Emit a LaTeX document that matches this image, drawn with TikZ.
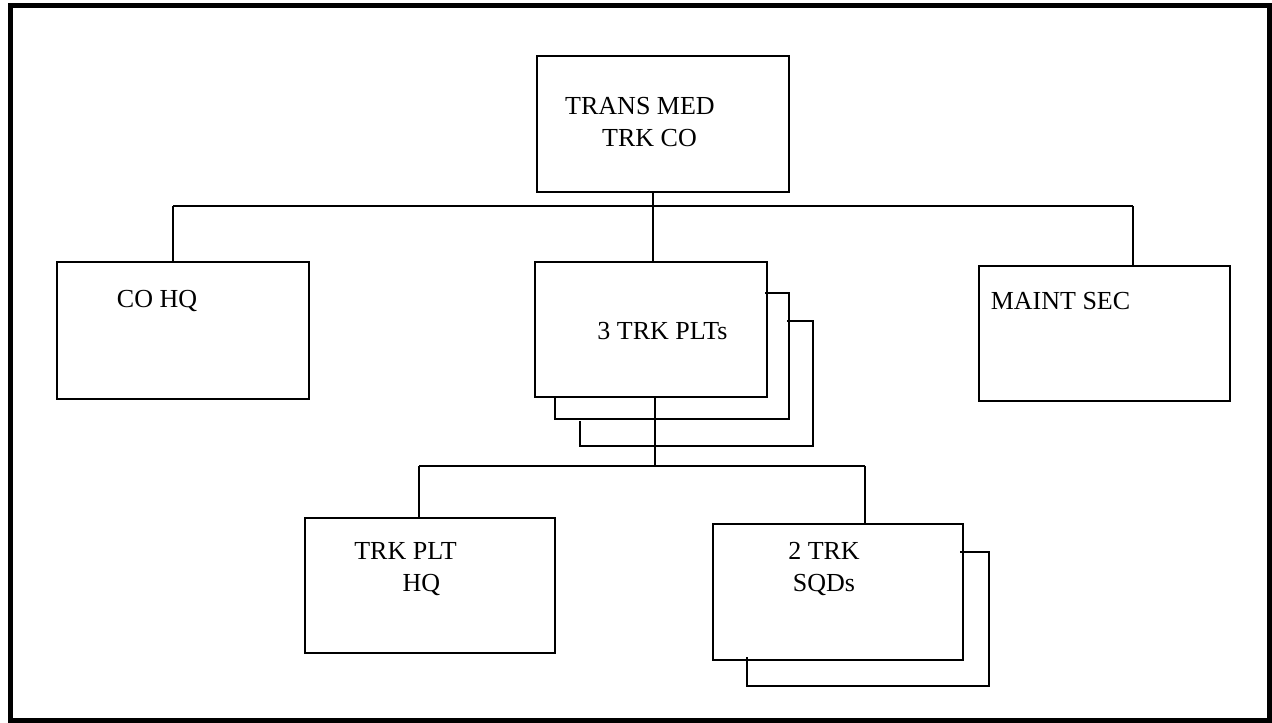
\documentclass[tikz,border=0pt]{standalone}
\usepackage{fontspec}
\setmainfont{Liberation Serif}
\usetikzlibrary{fit}

\begin{document}
\begin{tikzpicture}[x=0.02cm,y=-0.02cm,line width=1.3pt,
		box/.style={draw,rectangle,inner sep=0pt,line width=1.3pt},
		lbl/.style={inner sep=0pt,align=center,font=\fontsize{14.8}{18.2}\selectfont}]
			% The page frame fixes the margins of the whole chart.
			\useasboundingbox (0,0) rectangle (1272,723);
			\draw[line width=2.8pt] (10.5,5.5) rectangle (1269.5,720.5);

			% The company and its three elements.
			\node[box,fit={(537,56) (789,192)}] (Tco) {};
			\node[lbl] (TcoText) at (640,122) {TRANS MED\\\hspace*{0.38cm}TRK CO};
			\node[box,fit={(57,262) (309,399)}] (Cohq) {};
			\node[lbl] (CohqText) at (157,301) {CO HQ};
			\node[box,fit={(979,266) (1230,401)}] (Maint) {};
			\node[lbl] (MaintText) at (1060.5,301) {MAINT SEC};

			% Three platoons: two sheets peek out behind the front one.
			\draw (765,293) -| (789,419) -| (555,396);
			\draw (787,321) -| (813,446) -| (580,421);
			\node[box,fit={(535,262) (767,397)}] (Plt) {};
			\node[lbl] (PltText) at (662.5,331) {3 TRK PLTs};

			% Elements of one platoon.
			\node[box,fit={(305,518) (555,653)}] (PltHq) {};
			\node[lbl] (PltHqText) at (405.5,569) {TRK PLT\\\hspace*{0.64cm}HQ};
			\draw (960,552) -| (989,686) -| (747,657);
			\node[box,fit={(713,524) (963,660)}] (Sqd) {};
			\node[lbl] (SqdText) at (824,569) {2 TRK\\SQDs};

			% Upper bus.
			\coordinate (BusL) at (173,206);
			\coordinate (BusM) at (653,206);
			\coordinate (BusR) at (1133,206);
			\draw (BusL) -- (BusR);
			\draw (BusM |- Tco.south) -- (BusM |- Plt.north);
			\draw (BusL) -- (BusL |- Cohq.north);
			\draw (BusR) -- (BusR |- Maint.north);

			% Lower bus.
			\coordinate (LowL) at (419,466);
			\coordinate (LowM) at (655,466);
			\coordinate (LowR) at (865,466);
			\draw (LowL) -- (LowR);
			\draw (LowM |- Plt.south) -- (LowM);
			\draw (LowL) -- (LowL |- PltHq.north);
			\draw (LowR) -- (LowR |- Sqd.north);
		\end{tikzpicture}
\end{document}
